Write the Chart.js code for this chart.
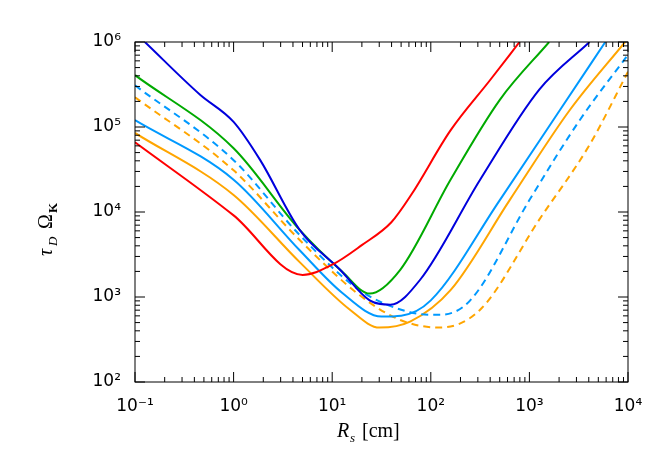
<!DOCTYPE html><html><head><script src="https://cdn.jsdelivr.net/npm/chart.js@4"></script>
<style>body{margin:0;background:#fff}</style></head><body>
<canvas id="c" width="668" height="468"></canvas>
<script>
// log10 values
const redX=[-1,0,0.7,1,1.3,1.6,1.8,2.2,2.6,2.9], redY=[4.82,3.96,3.26,3.38,3.61,3.88,4.2,4.96,5.55,6];
const blueX=[-0.9,-0.34,0,0.27,0.67,1.08,1.38,1.59,1.89,2.5,3.1,3.61], blueY=[6,5.38,5.06,4.61,3.79,3.32,2.96,2.91,3.2,4.38,5.44,6];
const greenX=[-1,0,0.67,1.1,1.38,1.69,2.2,2.7,3.2], greenY=[5.61,4.75,3.79,3.3,3.04,3.32,4.38,5.32,6];
const lbX=[-1,0,0.67,1.1,1.5,1.7,2,2.7,3.31,3.77], lbY=[5.08,4.38,3.55,3.05,2.77,2.78,2.96,4.14,5.2,6];
const lbdX=[-1,0,0.67,1.28,1.79,2.09,2.4,3,3.51,4], lbdY=[5.49,4.61,3.73,3.08,2.82,2.79,2.96,4.14,5.08,5.85];
const orX=[-1,0,0.67,1.18,1.48,1.79,2.2,2.8,3.41,3.97], orY=[4.93,4.2,3.41,2.85,2.64,2.71,3.08,4.14,5.2,6];
const ordX=[-1,0,0.67,1.28,1.69,2.09,2.5,3.1,3.61,4], ordY=[5.35,4.49,3.67,3.02,2.73,2.64,2.85,3.91,4.79,5.65];
const pts=(X,Y)=>X.map((x,i)=>({x:10**x,y:10**Y[i]}));
const ds=(X,Y,c,d)=>({data:pts(X,Y),borderColor:c,borderWidth:2,pointRadius:0,fill:false,cubicInterpolationMode:'monotone',borderDash:d||[]});
const sup={'-':'⁻','0':'⁰','1':'¹','2':'²','3':'³','4':'⁴','5':'⁵','6':'⁶'};
const lab=v=>{const l=Math.log10(v);if(Math.abs(l-Math.round(l))>1e-6)return '';return '10'+String(Math.round(l)).split('').map(c=>sup[c]).join('');};
const inTicks={id:'in',afterDraw(ch){const c=ch.ctx,a=ch.chartArea,xs=ch.scales.x,ys=ch.scales.y;c.save();c.strokeStyle='#000';c.lineWidth=1;
c.strokeRect(a.left,a.top,a.right-a.left,a.bottom-a.top);
for(let e=-1;e<=4;e++)for(let m=1;m<10;m++){const v=m*10**e;if(v>1e4)break;const p=xs.getPixelForValue(v),L=m==1?10:5;c.beginPath();c.moveTo(p,a.bottom);c.lineTo(p,a.bottom-L);c.moveTo(p,a.top);c.lineTo(p,a.top+L);c.stroke();}
for(let e=2;e<=6;e++)for(let m=1;m<10;m++){const v=m*10**e;if(v>1e6)break;const p=ys.getPixelForValue(v),L=m==1?10:5;c.beginPath();c.moveTo(a.left,p);c.lineTo(a.left+L,p);c.moveTo(a.right,p);c.lineTo(a.right-L,p);c.stroke();}
c.fillStyle='#000';c.font='italic 20px "Liberation Serif"';c.textAlign='left';c.textBaseline='alphabetic';
c.fillText('R',337,437);c.font='italic 13px "Liberation Serif"';c.fillText('s',350,442);c.font='20px "Liberation Serif"';c.fillText('[cm]',362,437);
c.translate(52,212);c.rotate(-Math.PI/2);c.font='italic 20px "Liberation Serif"';c.fillText('τ',-44,0);c.font='italic 13px "Liberation Serif"';c.fillText('D',-34,5);
c.font='20px "Liberation Serif"';c.fillText('Ω',-17,0);c.font='bold 13px "Liberation Serif"';c.fillText('K',-1,5);c.restore();}};
new Chart(document.getElementById('c'),{type:'line',data:{datasets:[
ds(redX,redY,'#ff0000'),ds(blueX,blueY,'#0000dd'),ds(greenX,greenY,'#00aa00'),ds(lbX,lbY,'#0099ff'),ds(lbdX,lbdY,'#0099ff',[7,5]),ds(orX,orY,'#ffa500'),ds(ordX,ordY,'#ffa500',[7,5])]},
options:{responsive:false,animation:false,layout:{padding:{top:42,right:40}},plugins:{legend:{display:false},tooltip:{enabled:false}},
scales:{x:{type:'logarithmic',min:0.1,max:1e4,grid:{display:false},border:{display:false},afterFit(s){s.height=86;},
ticks:{callback:lab,autoSkip:false,maxRotation:0,color:'#000',font:{size:17,family:'DejaVu Sans'},padding:6}},
y:{type:'logarithmic',min:100,max:1e6,grid:{display:false},border:{display:false},afterFit(s){s.width=135;},
ticks:{callback:lab,autoSkip:false,color:'#000',font:{size:17,family:'DejaVu Sans'},padding:6}}}},plugins:[inTicks]});
</script></body></html>
